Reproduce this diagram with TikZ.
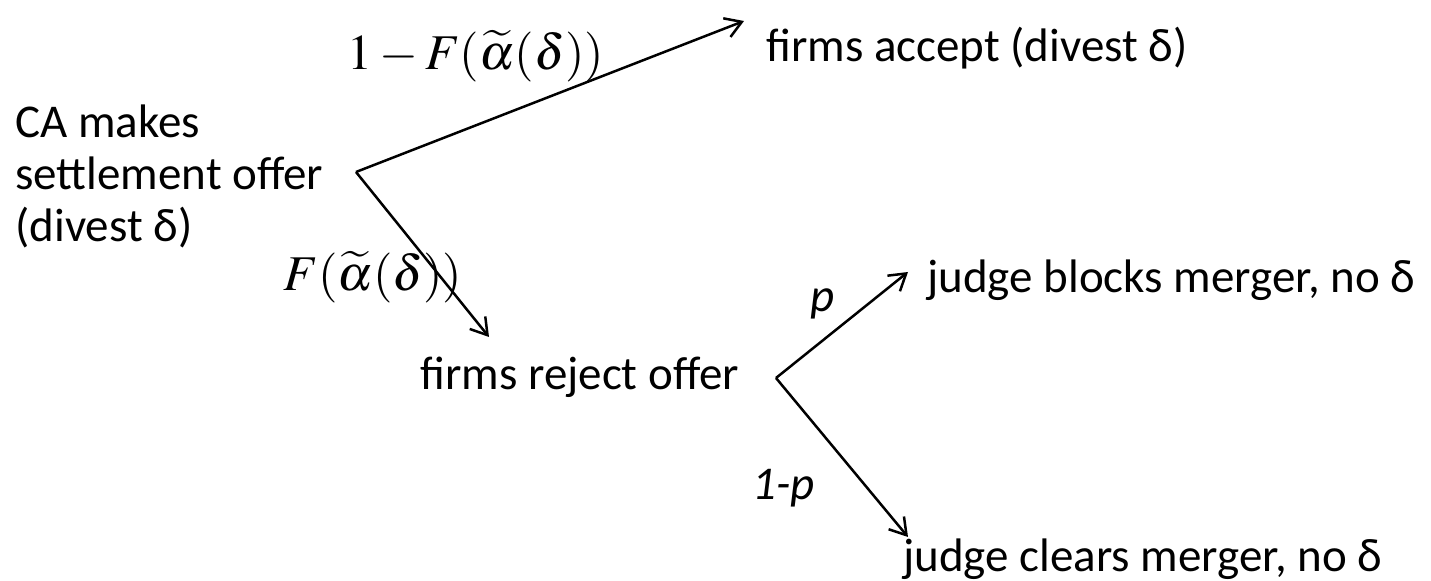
\documentclass[tikz,border=0pt]{standalone}
\usepackage{mathptmx}
\usepackage[no-math]{fontspec}
\setmainfont{Carlito}
\usetikzlibrary{arrows.meta}
\begin{document}
\begin{tikzpicture}[x=0.5pt,y=-0.5pt,
  txt/.style={inner sep=0pt, anchor=base west, font=\fontsize{23.5pt}{26pt}\selectfont},
  mlab/.style={inner sep=0pt, anchor=base west, font=\fontsize{25pt}{30pt}\selectfont},
  plab/.style={inner sep=0pt, anchor=base west, font=\fontsize{23.5pt}{26pt}\selectfont\itshape},
  arr/.style={line width=1.25pt, -{Straight Barb[length=8pt,width=10pt]}}]
\useasboundingbox (0,0) rectangle (1431,581);
% texts (multi-line node: base anchor is the last line)
\node[txt, align=left] (ca) at (15,242) {CA makes\\settlement offer\\(divest δ)};
\node[txt] (acc) at (766,62) {firms accept (divest δ)};
\node[txt] (rej) at (420,390) {firms reject offer};
\node[txt] (blk) at (927,293) {judge blocks merger, no δ};
\node[txt] (clr) at (903,572) {judge clears merger, no δ};
% labels
\node[mlab] (l1) at (347,70) {$1-F(\widetilde{\alpha}(\delta))$};
\node[mlab] (l2) at (283,291) {$F(\widetilde{\alpha}(\delta))$};
\node[plab] (lp) at (810,312) {p};
\node[plab] (l1p) at (752,500) {1-p};
% branch points and arrow ends
\coordinate (v1) at (356,172);
\coordinate (t1) at (744,21);
\coordinate (t2) at (489,337);
\coordinate (v2) at (776,378);
\coordinate (t3) at (908,272);
\coordinate (t4) at (908,537);
\draw[arr] (v1) -- (t1);
\draw[arr] (v1) -- (t2);
\draw[arr] (v2) -- (t3);
\draw[arr] (v2) -- (t4);
\end{tikzpicture}
\end{document}
